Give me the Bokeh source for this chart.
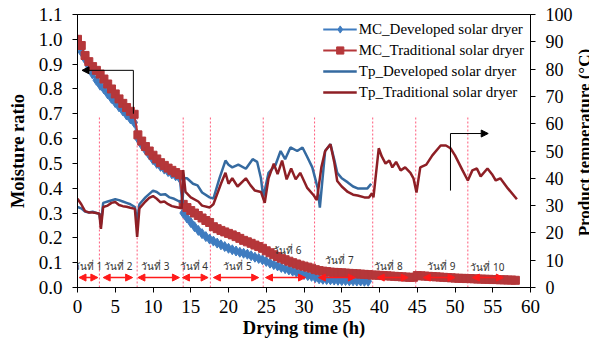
import math
from bokeh.plotting import figure
from bokeh.layouts import row
from bokeh.models import (Range1d, LinearAxis, FixedTicker, PrintfTickFormatter,
                          Legend, LegendItem, Arrow, NormalHead, ColumnDataSource)
from bokeh.core.properties import value
from bokeh.embed import file_html
from bokeh.resources import INLINE

# ---------------- data ----------------
mc_time_dev = [0.0, 0.5, 1.0, 1.5, 2.0, 2.5, 3.0, 3.5, 4.0, 4.5, 5.0, 5.5, 6.0, 6.5, 7.0, 7.5,
               8.0, 8.5, 9.0, 9.5, 10.0, 10.5, 11.0, 11.5, 12.0, 12.5, 13.0, 13.5,
               14.0, 14.5, 15.0, 15.5, 16.0, 16.5, 17.0, 17.5, 18.0, 18.5, 19.0, 19.5,
               20.0, 20.5, 21.0, 21.5, 22.0, 22.5, 23.0, 23.5, 24.0, 24.5, 25.0, 25.5,
               26.0, 26.5, 27.0, 27.5, 28.0, 28.5, 29.0, 29.5, 30.0, 30.5, 31.0, 31.5,
               32.0, 32.5, 33.0, 33.5, 34.0, 34.5, 35.0, 35.5, 36.0, 36.5, 37.0, 37.5,
               38.0, 38.5]
mc_dev = [1.000, 0.950, 0.920, 0.890, 0.860, 0.835, 0.815, 0.800, 0.780, 0.762, 0.745, 0.728,
          0.712, 0.695, 0.680, 0.665, 0.600, 0.575, 0.555, 0.535, 0.515, 0.500, 0.488, 0.477,
          0.467, 0.458, 0.450, 0.442, 0.300, 0.280, 0.262, 0.245, 0.230, 0.217, 0.205, 0.195,
          0.187, 0.179, 0.172, 0.165, 0.158, 0.152, 0.147, 0.142, 0.138, 0.134, 0.128, 0.122,
          0.117, 0.112, 0.105, 0.098, 0.092, 0.087, 0.081, 0.076, 0.071, 0.066, 0.061, 0.056,
          0.052, 0.048, 0.045, 0.040, 0.035, 0.033, 0.032, 0.031, 0.030, 0.029, 0.028, 0.028,
          0.027, 0.027, 0.026, 0.026, 0.025, 0.025]

mc_time_trad = [0.0, 0.5, 1.0, 1.5, 2.0, 2.5, 3.0, 3.5, 4.0, 4.5, 5.0, 5.5, 6.0, 6.5, 7.0, 7.5,
                8.0, 8.5, 9.0, 9.5, 10.0, 10.5, 11.0, 11.5, 12.0, 12.5, 13.0, 13.5,
                14.0, 14.5, 15.0, 15.5, 16.0, 16.5, 17.0, 17.5, 18.0, 18.5, 19.0, 19.5,
                20.0, 20.5, 21.0, 21.5, 22.0, 22.5, 23.0, 23.5, 24.0, 24.5, 25.0, 25.5,
                26.0, 26.5, 27.0, 27.5, 28.0, 28.5, 29.0, 29.5, 30.0, 30.5, 31.0, 31.5,
                32.0, 32.5, 33.0, 33.5, 34.0, 34.5, 35.0, 35.5, 36.0, 36.5, 37.0, 37.5,
                38.0, 38.5, 39.0, 39.5, 40.0, 40.5, 41.0, 41.5, 42.0, 42.5, 43.0, 43.5,
                44.0, 44.5, 45.0, 45.5, 46.0, 46.5, 47.0, 47.5, 48.0, 48.5, 49.0, 49.5,
                50.0, 50.5, 51.0, 51.5, 52.0, 52.5, 53.0, 53.5, 54.0, 54.5, 55.0, 55.5,
                56.0, 56.5, 57.0, 57.5, 58.0]
mc_trad = [1.000, 0.975, 0.935, 0.910, 0.890, 0.875, 0.860, 0.840, 0.820, 0.800, 0.780, 0.760,
           0.742, 0.725, 0.710, 0.698, 0.615, 0.590, 0.568, 0.550, 0.533, 0.518, 0.503, 0.492,
           0.481, 0.472, 0.463, 0.455, 0.335, 0.322, 0.310, 0.300, 0.290, 0.280, 0.270, 0.262,
           0.245, 0.237, 0.230, 0.224, 0.218, 0.212, 0.205, 0.198, 0.190, 0.184, 0.178, 0.171,
           0.165, 0.158, 0.148, 0.140, 0.132, 0.125, 0.118, 0.112, 0.106, 0.100, 0.095, 0.090,
           0.086, 0.082, 0.078, 0.072, 0.068, 0.066, 0.064, 0.062, 0.061, 0.060, 0.059, 0.058,
           0.057, 0.056, 0.055, 0.054, 0.053, 0.052, 0.050, 0.050, 0.049, 0.048, 0.047, 0.046,
           0.045, 0.044, 0.043, 0.042, 0.041, 0.041, 0.048, 0.047, 0.046, 0.045, 0.044, 0.043,
           0.042, 0.041, 0.040, 0.039, 0.038, 0.037, 0.037, 0.036, 0.036, 0.035, 0.034, 0.034,
           0.033, 0.033, 0.032, 0.032, 0.031, 0.031, 0.030, 0.030, 0.029]

tp_time_dev = [0.0, 0.5, 1.0, 1.5, 2.0, 2.5, 2.9, 3.1, 3.4, 4.0, 5.0, 5.5, 6.0, 6.5, 7.0, 7.6,
               7.9, 8.2, 9.0, 10.0, 10.5, 11.0, 11.6, 12.2, 12.8, 13.5, 13.9, 14.1, 14.5,
               15.3, 15.9, 16.5, 17.5, 18.0, 18.8, 19.6, 20.0, 20.5, 21.3, 22.3, 23.2, 23.8,
               24.3, 24.6, 25.3, 26.2, 26.9, 27.5, 28.2, 29.1, 29.8, 30.4, 31.1, 31.8, 32.1,
               32.8, 33.5, 34.0, 34.4, 35.0, 35.8, 36.5, 37.1, 38.4, 38.9]
tp_dev = [29.5, 29.0, 27.8, 27.5, 27.8, 27.3, 27.0, 23.0, 31.0, 31.5, 32.3, 32.0, 31.5, 31.0,
          30.5, 29.5, 24.0, 30.5, 33.0, 35.5, 35.0, 34.0, 34.2, 33.0, 32.5, 31.5, 31.0, 40.0,
          40.0, 38.0, 37.4, 34.8, 33.0, 32.6, 40.0, 46.5, 45.0, 44.0, 45.0, 43.5, 47.0, 46.0,
          40.0, 33.0, 42.0, 44.7, 50.0, 47.0, 51.3, 50.0, 51.3, 48.0, 44.0, 36.6, 29.3,
          50.0, 52.5, 47.0, 42.0, 40.0, 38.5, 37.0, 36.3, 36.3, 38.0]

tp_time_trad = [0.0, 0.5, 1.0, 1.5, 2.0, 2.5, 2.9, 3.1, 3.4, 4.0, 4.5, 5.0, 5.5, 6.0, 6.5, 7.0,
                7.6, 7.9, 8.2, 9.0, 9.5, 10.0, 10.5, 11.0, 11.5, 12.0, 12.5, 13.0, 13.8, 14.0,
                14.3, 15.0, 16.0, 16.5, 17.5, 18.0, 19.0, 19.6, 20.0, 20.5, 21.2, 22.3, 22.9,
                23.5, 24.3, 24.8, 25.3, 26.0, 26.5, 27.1, 27.7, 28.3, 28.9, 29.5, 30.4, 31.3,
                31.7, 32.3, 32.8, 33.5, 34.0, 34.4, 35.0, 35.8, 36.5, 37.1, 38.0, 38.6, 39.0,
                39.2, 39.9, 40.3, 40.8, 41.3, 41.7, 42.2, 42.8, 43.4, 44.1, 44.5, 44.9, 45.4,
                46.2, 47.0, 48.1, 48.8, 49.4, 50.0, 51.0, 51.7, 52.3, 52.9, 53.4, 54.3, 54.9,
                55.4, 56.0, 57.0, 58.2]
tp_trad = [32.5, 30.5, 28.0, 27.5, 27.5, 27.3, 27.0, 21.5, 29.5, 30.0, 31.0, 31.3, 30.2, 29.8,
           29.6, 29.2, 28.8, 18.5, 29.0, 31.5, 32.8, 33.5, 32.5, 31.2, 31.5, 30.5, 29.8, 29.5,
           29.0, 43.0, 35.0, 33.0, 31.5, 30.0, 29.3, 30.5, 38.0, 42.0, 38.0, 40.0, 37.0, 40.0,
           37.5, 35.5, 35.0, 31.0, 40.0, 45.4, 41.5, 46.5, 39.6, 43.6, 39.6, 42.0, 36.6, 33.7,
           32.0, 44.0, 50.0, 52.5, 46.0, 39.0, 37.0, 35.0, 34.0, 33.7, 33.0, 33.0, 34.5,
           33.0, 51.0, 48.0, 45.4, 46.5, 44.0, 46.0, 42.9, 44.0, 42.0, 40.0, 34.8, 44.0,
           45.0, 48.4, 52.0, 52.0, 51.0, 48.4, 42.9, 39.2, 42.9, 43.6, 40.7, 43.6, 41.5,
           39.2, 40.0, 36.3, 32.3]

day_bounds = [2.9, 7.9, 14.0, 17.6, 24.6, 31.4, 39.1, 44.8, 51.7]
day_labels = ["วันที่ 1", "วันที่ 2", "วันที่ 3", "วันที่ 4", "วันที่ 5",
              "วันที่ 6", "วันที่ 7", "วันที่ 8", "วันที่ 9", "วันที่ 10"]
day_label_x = [1.4, 5.4, 10.3, 15.4, 21.2, 27.8, 34.7, 41.2, 48.2, 54.3]
day_label_y = [0.088, 0.088, 0.088, 0.088, 0.088, 0.15, 0.11, 0.088, 0.088, 0.082]
day_arrow_start = [0.2, 3.4, 8.0, 13.9, 18.0, 24.9, 31.9, 39.7, 45.8, 52.3]
day_arrow_end = [2.7, 7.3, 13.5, 17.3, 24.0, 30.2, 36.8, 43.8, 50.0, 56.4]
day_arrow_level = 0.04

left_ticks = [0.0, 0.1, 0.2, 0.3, 0.4, 0.5, 0.6, 0.7, 0.8, 0.9, 1.0, 1.1]
right_ticks = [0, 10, 20, 30, 40, 50, 60, 70, 80, 90, 100]
x_ticks = [0, 5, 10, 15, 20, 25, 30, 35, 40, 45, 50, 55, 60]
right_title = "Product temperature (\u00b0C)"

# annotation pointers (data coordinates)
mc_pointer = dict(x=7.4, y0=0.70, y1=0.875, x_to=0.6)
tp_pointer = dict(x=49.4, y0=35.5, y1=56.4, x_to=54.4)

# ---------------- styles ----------------
SERIF = "Liberation Serif"
C_MC_DEV = "#3f7cc0"
C_MC_TRAD = "#b5373a"
C_TP_DEV = "#356aa0"
C_TP_TRAD = "#8e1f25"
C_DAY = "#ff5a7a"
C_ARROW = "#ff1a1a"

p = figure(frame_width=453, frame_height=273, output_backend="svg", toolbar_location=None,
           x_range=Range1d(0, 60), y_range=Range1d(0, 1.1),
           min_border_left=77, min_border_right=41, min_border_top=14, min_border_bottom=56)
p.extra_y_ranges = {"tp": Range1d(0, 100)}
p.xgrid.visible = False
p.ygrid.visible = False
p.outline_line_color = "black"
p.outline_line_width = 1
p.background_fill_color = "white"
p.border_fill_color = "white"

def style_axis(ax, label):
    ax.axis_label = label
    ax.axis_label_text_font = SERIF
    ax.axis_label_text_font_style = "bold"
    ax.axis_label_text_font_size = "18.5px"
    ax.axis_label_text_color = "black"
    ax.major_label_text_font = SERIF
    ax.major_label_text_font_size = "19px"
    ax.major_label_text_color = "black"
    ax.axis_line_color = "black"
    ax.major_tick_line_color = "black"
    ax.major_tick_out = 5
    ax.major_tick_in = 0
    ax.minor_tick_line_color = None

xa = p.xaxis[0]
xa.ticker = FixedTicker(ticks=x_ticks)
style_axis(xa, "Drying time (h)")
xa.major_label_standoff = 7
xa.axis_label_standoff = 2

ya = p.yaxis[0]
ya.ticker = FixedTicker(ticks=left_ticks)
ya.formatter = PrintfTickFormatter(format="%.1f")
style_axis(ya, "Moisture ratio")
ya.major_label_standoff = 10
ya.axis_label_standoff = 8

ra = LinearAxis(y_range_name="tp")
ra.ticker = FixedTicker(ticks=right_ticks)
style_axis(ra, None)
ra.major_label_standoff = 10
ra.major_label_text_font_size = "18px"
p.add_layout(ra, "right")

# day dividers
p.segment(x0=day_bounds, y0=[0] * len(day_bounds), x1=day_bounds, y1=[0.69] * len(day_bounds),
          line_color=C_DAY, line_dash="2 2", line_width=1)

# moisture ratio series
l1 = p.line(mc_time_dev, mc_dev, line_color=C_MC_DEV, line_width=2)
s1 = p.scatter(mc_time_dev, mc_dev, marker="diamond", size=10, fill_color=C_MC_DEV,
               line_color=C_MC_DEV)
l2 = p.line(mc_time_trad, mc_trad, line_color=C_MC_TRAD, line_width=2)
s2 = p.scatter(mc_time_trad, mc_trad, marker="square", size=8, fill_color=C_MC_TRAD,
               line_color=C_MC_TRAD)

# product temperature series
l3 = p.line(tp_time_dev, tp_dev, line_color=C_TP_DEV, line_width=2.5, y_range_name="tp")
l4 = p.line(tp_time_trad, tp_trad, line_color=C_TP_TRAD, line_width=2.5, y_range_name="tp")

# day arrows
arr_src = ColumnDataSource(dict(xs=day_arrow_start, xe=day_arrow_end,
                                ys=[day_arrow_level] * len(day_arrow_start),
                                ye=[day_arrow_level] * len(day_arrow_start)))
p.add_layout(Arrow(x_start="xs", y_start="ys", x_end="xe", y_end="ye", source=arr_src,
                   line_color=C_ARROW, line_width=1.5,
                   start=NormalHead(size=7, fill_color=C_ARROW, line_color=C_ARROW),
                   end=NormalHead(size=7, fill_color=C_ARROW, line_color=C_ARROW)))

# day labels
p.text(x=day_label_x, y=day_label_y, text=day_labels, text_align="center",
       text_baseline="middle", text_font_size="10px", text_color="#333333",
       text_font=value("Noto Sans"))

# pointer arrows to the axes
p.segment(x0=[mc_pointer["x"]], y0=[mc_pointer["y0"]], x1=[mc_pointer["x"]],
          y1=[mc_pointer["y1"]], line_color="black", line_width=1)
p.add_layout(Arrow(x_start=mc_pointer["x"], y_start=mc_pointer["y1"],
                   x_end=mc_pointer["x_to"], y_end=mc_pointer["y1"],
                   line_color="black", line_width=1,
                   end=NormalHead(size=7, fill_color="black", line_color="black")))
p.segment(x0=[tp_pointer["x"]], y0=[tp_pointer["y0"]], x1=[tp_pointer["x"]],
          y1=[tp_pointer["y1"]], line_color="black", line_width=1, y_range_name="tp")
p.add_layout(Arrow(x_start=tp_pointer["x"], y_start=tp_pointer["y1"],
                   x_end=tp_pointer["x_to"], y_end=tp_pointer["y1"],
                   line_color="black", line_width=1, y_range_name="tp",
                   end=NormalHead(size=7, fill_color="black", line_color="black")))

legend = Legend(items=[
    LegendItem(label="MC_Developed solar dryer", renderers=[l1, s1]),
    LegendItem(label="MC_Traditional solar dryer", renderers=[l2, s2]),
    LegendItem(label="Tp_Developed solar dryer", renderers=[l3]),
    LegendItem(label="Tp_Traditional solar dryer", renderers=[l4]),
], location="top_right")
legend.label_text_font = SERIF
legend.label_text_font_size = "15px"
legend.label_text_color = "black"
legend.background_fill_alpha = 0
legend.border_line_alpha = 0
legend.glyph_width = 34
legend.glyph_height = 18
legend.label_height = 18
legend.spacing = 3
legend.padding = 6
legend.margin = 0
legend.label_standoff = 2
p.add_layout(legend)

# right-hand axis title (reads bottom to top), in a narrow strip beside the chart
t = figure(width=18, height=343, output_backend="svg", toolbar_location=None,
           x_range=Range1d(0, 18), y_range=Range1d(343, 0),
           x_axis_type=None, y_axis_type=None,
           min_border_left=0, min_border_right=0, min_border_top=0, min_border_bottom=0)
t.grid.visible = False
t.outline_line_color = None
t.background_fill_color = "white"
t.border_fill_color = "white"
t.text(x=[8.5], y=[161], text=[right_title], angle=math.pi / 2, text_align="center",
       text_baseline="middle", text_font=value(SERIF), text_font_style="bold",
       text_font_size="17px", text_color="black")

open("out.html", "w").write(file_html(row(p, t), INLINE))
